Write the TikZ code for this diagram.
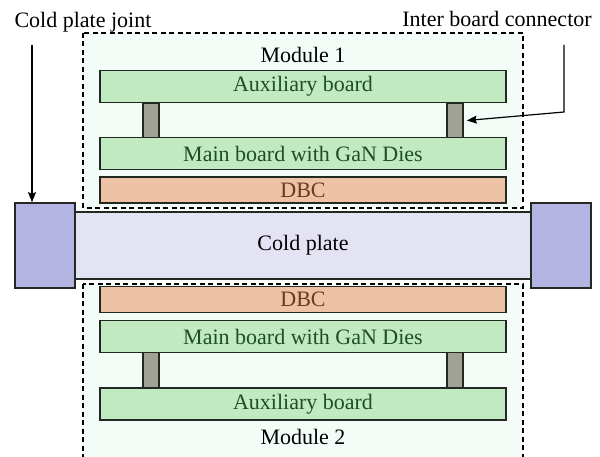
\documentclass[tikz,border=0pt]{standalone}
\usepackage{fontspec}
\setmainfont{Liberation Serif}
\usetikzlibrary{arrows.meta}
\definecolor{modfill}{HTML}{F3FCF6}
\definecolor{boardfill}{HTML}{C2EAC0}
\definecolor{boardtext}{HTML}{1F4D26}
\definecolor{dbcfill}{HTML}{EEC2A4}
\definecolor{dbctext}{HTML}{6B3A1E}
\definecolor{pinfill}{HTML}{A0A393}
\definecolor{platefill}{HTML}{E3E3F3}
\definecolor{jointfill}{HTML}{B4B4E2}
\definecolor{edge}{HTML}{222822}

\begin{document}
\begin{tikzpicture}[x=1pt, y=-1pt,
    font=\fontsize{22}{26}\selectfont,
    box/.style={draw=edge, line width=1.6pt, inner sep=0pt, minimum width=406pt},
    board/.style={box, fill=boardfill, text=boardtext, minimum height=32pt},
    dbc/.style={box, fill=dbcfill, text=dbctext, minimum height=26pt},
    pin/.style={draw=edge, line width=1.6pt, fill=pinfill, inner sep=0pt, minimum width=16pt, minimum height=35pt},
    joint/.style={draw=edge, line width=1.6pt, fill=jointfill, inner sep=0pt, minimum width=60pt, minimum height=85pt},
    module/.style={draw=black, fill=modfill, line width=1.5pt, dash pattern=on 5pt off 3.5pt},
    pointer/.style={line width=1.2pt, -{Stealth[length=10pt, width=8pt, inset=1.5pt]}}]
    \useasboundingbox (0,0) rectangle (600,457);
    \clip (0,0) rectangle (600,457);

    \draw[module] (83,33) rectangle (523,208);
    \draw[module] (83,284) rectangle (523,470);
    \node (mod1) at (303,54.5) {Module 1};
    \node (mod2) at (303,437) {Module 2};

    \node[pin] (pin1L) at (151,120.5) {};
    \node[pin] (pin1R) at (455,120.5) {};
    \node[board] (aux1) at (303,86.5) {Auxiliary board};
    \node[board] (main1) at (303,153.5) {Main board with GaN Dies};
    \node[dbc] (dbc1) at (303,190) {DBC};

    \node[draw=edge, line width=1.6pt, fill=platefill, inner sep=0pt,
        minimum width=456pt, minimum height=67pt] (plate) at (303,245.5) {Cold plate};
    \node[joint] (jointL) at (45,245.5) {};
    \node[joint] (jointR) at (561,245.5) {};

    \node[pin] (pin2L) at (151,370) {};
    \node[pin] (pin2R) at (455,370) {};
    \node[dbc] (dbc2) at (303,299.5) {DBC};
    \node[board] (main2) at (303,336.5) {Main board with GaN Dies};
    \node[board] (aux2) at (303,404) {Auxiliary board};

    \node (jointlbl) at (83,22) {Cold plate joint};
    \node (connlbl) at (497,19) {Inter board connector};

    \coordinate (jtop) at (32,45);
    \coordinate (ctop) at (564,45);
    \coordinate (cbend) at (564,112);
    \draw[pointer] (jtop) -- (jtop |- jointL.north);
    \draw[pointer] (ctop) -- (cbend) -- ([xshift=3pt]pin1R.east);
\end{tikzpicture}
\end{document}
